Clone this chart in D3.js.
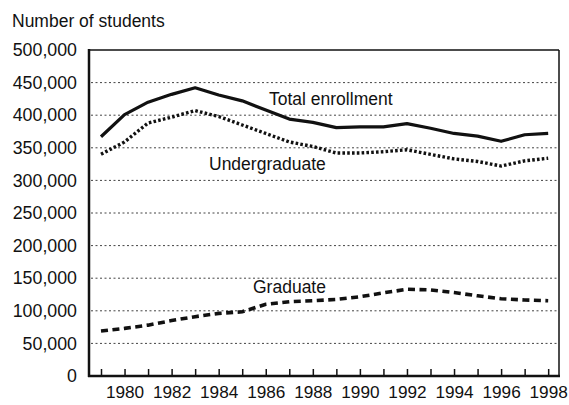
<!DOCTYPE html>
<html><head><meta charset="utf-8">
<script src="https://cdn.jsdelivr.net/npm/d3@7"></script>
<style>
html,body{margin:0;padding:0;background:#fff;}
svg{display:block;}
text{font-family:"Liberation Sans",Arial,Helvetica,sans-serif;fill:#111;}
</style></head>
<body>
<svg id="chart" width="569" height="405"></svg>
<script>
const years = [1979,1980,1981,1982,1983,1984,1985,1986,1987,1988,1989,1990,1991,1992,1993,1994,1995,1996,1997,1998];
const totalEnrollment = [367000,401000,420000,432000,442000,431000,422000,408000,394000,389000,381000,382000,382000,387000,380000,372000,368000,360000,370000,372000];
const undergraduate = [340000,359000,388000,397000,407000,398000,385000,372000,359000,352000,342000,342000,344000,347000,340000,333000,329000,322000,330000,334000];
const graduate = [69000,73000,78000,85000,91000,96000,98500,110000,114000,115500,117500,121500,127500,133000,132000,128000,123000,118500,116500,115500];
const yTicks = [0,50000,100000,150000,200000,250000,300000,350000,400000,450000,500000];
const xLabelYears = [1980,1982,1984,1986,1988,1990,1992,1994,1996,1998];
const seriesLabels = ["Total enrollment","Undergraduate","Graduate"];
const yTitle = "Number of students";

const svg = d3.select("#chart");
const L = 89, R = 559, T = 50, B = 376;
const x = d3.scaleLinear().domain([1978.49, 1998.46]).range([L, R]);
const y = d3.scaleLinear().domain([0, 500000]).range([B, T]);
const fmt = d3.format(",");

// gridlines
svg.append("g").selectAll("line")
  .data(yTicks.filter(v => v > 0 && v < 500000))
  .join("line")
  .attr("x1", L + 2).attr("x2", R)
  .attr("y1", d => y(d)).attr("y2", d => y(d))
  .attr("stroke", "#444").attr("stroke-width", 1)
  .attr("stroke-dasharray", "2,2.5");

// y axis labels
const yAxis = d3.axisLeft(y).tickValues(yTicks).tickFormat(fmt).tickSize(0).tickPadding(12);
const gy = svg.append("g").attr("transform", `translate(${L},0)`).call(yAxis);
gy.select(".domain").remove();
gy.selectAll("text").attr("font-size", "17.8px").attr("fill", "#111")
  .attr("font-family", "Liberation Sans, Arial, sans-serif");

// x axis ticks (inside, pointing up)
const gx = svg.append("g").attr("transform", `translate(0,${B})`)
  .call(d3.axisTop(x).tickValues(years).tickFormat("").tickSize(7));
gx.select(".domain").remove();
gx.selectAll("line").attr("stroke", "#111").attr("stroke-width", 1.5);

// x labels
const gxl = svg.append("g").attr("transform", `translate(0,${B})`)
  .call(d3.axisBottom(x).tickValues(xLabelYears).tickFormat(d3.format("d")).tickSize(0).tickPadding(10));
gxl.select(".domain").remove();
gxl.selectAll("text").attr("font-size", "17.2px").attr("fill", "#111")
  .attr("font-family", "Liberation Sans, Arial, sans-serif");

// frame
svg.append("line").attr("x1", L).attr("x2", R).attr("y1", T).attr("y2", T).attr("stroke", "#111").attr("stroke-width", 1.5);
svg.append("line").attr("x1", R).attr("x2", R).attr("y1", T).attr("y2", B).attr("stroke", "#111").attr("stroke-width", 1.5);
svg.append("line").attr("x1", L).attr("x2", L).attr("y1", T - 1).attr("y2", B + 1).attr("stroke", "#111").attr("stroke-width", 2.5);
svg.append("line").attr("x1", L - 1).attr("x2", R + 1).attr("y1", B).attr("y2", B).attr("stroke", "#111").attr("stroke-width", 2.5);

// lines
const line = d3.line().x((d, i) => x(years[i])).y(d => y(d));
svg.append("path").datum(totalEnrollment).attr("d", line)
  .attr("fill", "none").attr("stroke", "#111").attr("stroke-width", 3.2).attr("stroke-linejoin", "round");
svg.append("path").datum(undergraduate).attr("d", line)
  .attr("fill", "none").attr("stroke", "#111").attr("stroke-width", 3.4).attr("stroke-dasharray", "2.6,2.2");
svg.append("path").datum(graduate).attr("d", line)
  .attr("fill", "none").attr("stroke", "#111").attr("stroke-width", 3.6).attr("stroke-dasharray", "7,4.5");

// series labels
svg.append("text").attr("x", 269).attr("y", 105).attr("font-size", "17.5px").text(seriesLabels[0]);
svg.append("text").attr("x", 209).attr("y", 170).attr("font-size", "17.5px").text(seriesLabels[1]);
svg.append("text").attr("x", 253).attr("y", 293).attr("font-size", "17.5px").text(seriesLabels[2]);

// title
svg.append("text").attr("x", 12).attr("y", 27).attr("font-size", "17.5px").text(yTitle);
</script>
</body></html>
